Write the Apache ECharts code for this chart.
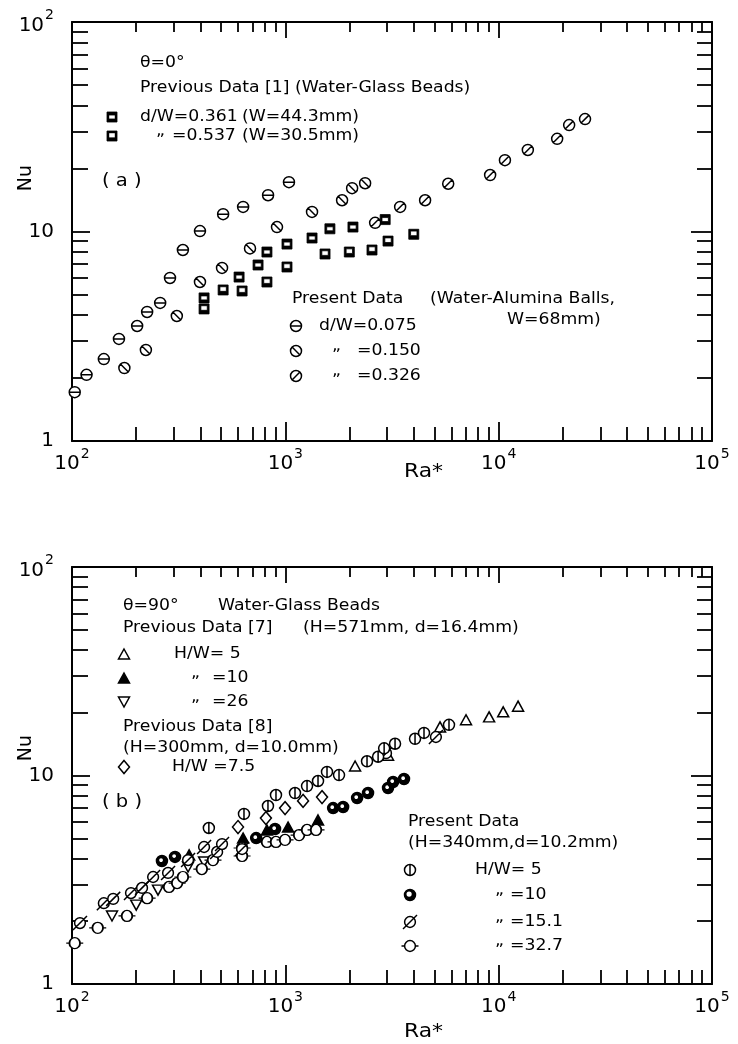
<!DOCTYPE html>
<html>
<head>
<meta charset="utf-8">
<title>Nu vs Ra*</title>
<script src="https://cdn.jsdelivr.net/npm/echarts@6/dist/echarts.min.js"></script>
<style>
  html, body { margin: 0; padding: 0; background: #fff; }
  #chart { width: 738px; height: 1044px; }
</style>
</head>
<body>
<div id="chart"></div>
<script>
// ---- (a) theta = 0 deg ----
const a075Ra = [103, 117, 141, 166, 202, 225, 259, 288, 331, 398, 511, 634, 830, 1040]
const a075Nu = [1.71, 2.07, 2.46, 3.07, 3.54, 4.13, 4.56, 6.0, 8.16, 10.05, 12.1, 13.1, 14.9, 17.2]
const a150Ra = [176, 222, 310, 398, 505, 683, 914, 1334, 1845, 2056, 2366]
const a150Nu = [2.23, 2.72, 3.95, 5.74, 6.7, 8.3, 10.5, 12.4, 14.1, 16.1, 17.0]
const a326Ra = [2636, 3453, 4520, 5800, 9120, 10700, 13700, 18800, 21400, 25400]
const a326Nu = [11.0, 13.1, 14.1, 16.9, 18.6, 21.9, 24.5, 27.7, 32.2, 34.4]
const a361Ra = [416, 607, 745, 820, 1018, 1334, 1618, 2075, 2938]
const a361Nu = [4.82, 6.06, 6.92, 7.98, 8.71, 9.31, 10.3, 10.5, 11.4]
const a537Ra = [416, 511, 627, 820, 1018, 1535, 1995, 2548, 3030, 4000]
const a537Nu = [4.27, 5.26, 5.2, 5.74, 6.77, 7.81, 7.98, 8.16, 9.0, 9.7]

// ---- (b) theta = 90 deg ----
const bPrev5Ra = [2123, 3030, 5310, 7030, 9020, 10500, 12330]
const bPrev5Nu = [11.1, 12.5, 17.1, 18.5, 19.1, 20.2, 21.5]
const bPrev10Ra = [354, 634, 820, 1030, 1423]
const bPrev10Nu = [4.16, 5.01, 5.48, 5.66, 6.12]
const bPrev26Ra = [154, 200, 253, 350, 416]
const bPrev26Nu = [2.12, 2.39, 2.82, 3.64, 3.85]
const bPrev75Ra = [600, 811, 997, 1211, 1486]
const bPrev75Nu = [5.66, 6.25, 6.98, 7.55, 7.88]
const b5Ra = [438, 640, 829, 904, 1110, 1264, 1423, 1568, 1785, 2415, 2722, 2905, 3268, 4055, 4467, 5850]
const b5Nu = [5.6, 6.54, 7.14, 8.06, 8.24, 8.9, 9.41, 10.4, 10.05, 11.7, 12.3, 13.5, 14.2, 15.0, 16.0, 17.5]
const b10Ra = [264, 304, 730, 895, 1675, 1866, 2170, 2442, 3030, 3200, 3600]
const b10Nu = [3.89, 4.07, 5.01, 5.54, 6.98, 7.06, 7.8, 8.24, 8.71, 9.31, 9.62]
const b151Ra = [109, 141, 156, 189, 213, 240, 282, 350, 416, 479, 505, 627, 2965, 5080]
const b151Nu = [1.96, 2.44, 2.56, 2.73, 2.89, 3.26, 3.41, 3.93, 4.54, 4.30, 4.69, 4.44, 12.8, 15.3]
const b327Ra = [103, 132, 181, 225, 285, 311, 331, 406, 458, 627, 627, 820, 904, 997, 1160, 1264, 1393]
const b327Nu = [1.57, 1.86, 2.12, 2.58, 2.92, 3.05, 3.26, 3.56, 3.93, 4.11, 4.49, 4.80, 4.80, 4.91, 5.18, 5.48, 5.48]

// ---- axes ----
const raMajor = [1000, 10000]
const raMinor = [200, 300, 400, 500, 600, 700, 800, 900, 2000, 3000, 4000, 5000, 6000, 7000, 8000, 9000,
  20000, 30000, 40000, 50000, 60000, 70000, 80000, 90000]
const raLabels = [100, 1000, 10000, 100000]
const nuMajor = [10]
const nuMinor = [2, 3, 4, 5, 6, 7, 8, 9, 20, 30, 40, 50, 60, 70, 80, 90]
const nuLabels = [1, 10, 100]

const FONT = 'DejaVu Sans'
const LW = 1.5
const pair = (xs, ys) => xs.map((x, i) => [x, ys[i]])

// marker shapes (series symbols)
const CIRC = 'M0,5A5,5,0,1,1,10,5A5,5,0,1,1,0,5Z'
const SYM = {
  circH: CIRC + 'M0,5L10,5',
  circBack: CIRC + 'M1.6,1.6L8.4,8.4',
  circSlash: CIRC + 'M1.6,8.4L8.4,1.6',
  circV: CIRC + 'M5,0L5,10',
  circHalf: CIRC + 'M1.8,4.2A2.4,2.4,0,1,0,6.6,4.2A2.4,2.4,0,1,0,1.8,4.2Z',
  circLong: 'M2,7A5,5,0,1,1,12,7A5,5,0,1,1,2,7ZM0.5,13.5L13.5,0.5',
  circTail: 'M3,5A5,5,0,1,1,13,5A5,5,0,1,1,3,5ZM0,5L3,5M13,5L16,5',
  sqA: 'M0,0L10,0L10,10L0,10ZM1.8,3L1.8,7L8.2,7L8.2,3Z',
  sqB: 'M0,0L10,0L10,10L0,10ZM1.8,1.8L1.8,6.4L8.2,6.4L8.2,1.8Z',
  tri: 'M5,0L10,9L0,9Z',
  triDown: 'M0,0L10,0L5,9Z',
  diamond: 'M5,0L10,6L5,12L0,6Z'
}
const SIZE = {
  circH: [11, 11], circBack: [11, 11], circSlash: [11, 11], circV: [11, 11], circHalf: [11, 11],
  circLong: [14, 14], circTail: [17, 11], sqA: [10, 10], sqB: [10, 10],
  tri: [11, 10], triDown: [11, 10], diamond: [11, 13]
}

function supLabel(v) {
  const e = Math.round(Math.log10(v))
  if (e === 0) return '{b|1}'
  if (e === 1) return '{b|10}'
  return '{b|10}{s|' + e + '}'
}
const labelRich = {
  b: { fontSize: 20, fontFamily: FONT, color: '#000', verticalAlign: 'bottom' },
  s: { fontSize: 14, fontFamily: FONT, color: '#000', verticalAlign: 'top', padding: [0, 0, 13, 1] }
}

function logAxis(gridIndex, position, min, max, ticks, len, showLine, labels, margin) {
  return {
    type: 'log', logBase: 10, gridIndex, position, min, max,
    axisLine: { show: showLine, lineStyle: { color: '#000', width: 2 } },
    axisTick: { show: true, inside: true, length: len, customValues: ticks, lineStyle: { color: '#000', width: 1.8 } },
    axisLabel: labels
      ? { show: true, customValues: labels, formatter: supLabel, rich: labelRich, margin }
      : { show: false },
    splitLine: { show: false },
    minorTick: { show: false }
  }
}

function xAxes(g) {
  return [
    logAxis(g, 'bottom', 100, 100000, raMajor, 19, true, raLabels, 6),
    logAxis(g, 'bottom', 100, 100000, raMinor, 14, false),
    logAxis(g, 'top', 100, 100000, raMajor, 16, true),
    logAxis(g, 'top', 100, 100000, raMinor, 10, false)
  ]
}
function yAxes(g) {
  return [
    logAxis(g, 'left', 1, 100, nuMajor, 18, true, nuLabels, 18),
    logAxis(g, 'left', 1, 100, nuMinor, 16, false),
    logAxis(g, 'right', 1, 100, nuMajor, 21, true),
    logAxis(g, 'right', 1, 100, nuMinor, 15, false)
  ]
}

function scatter(name, xs, ys, sym, axis, filled) {
  const isSq = sym === 'sqA' || sym === 'sqB'
  return {
    name, type: 'scatter', xAxisIndex: axis, yAxisIndex: axis,
    data: pair(xs, ys),
    symbol: 'path://' + SYM[sym],
    symbolSize: SIZE[sym],
    itemStyle: { color: filled ? '#000' : '#fff', borderColor: '#000', borderWidth: isSq ? 0.8 : LW, opacity: 1 },
    emphasis: { disabled: true }
  }
}

// legend markers built from primitives, centred on (cx, cy)
function marker(sym, cx, cy) {
  const open = { fill: '#fff', stroke: '#000', lineWidth: LW }
  const full = { fill: '#000', stroke: '#000', lineWidth: LW }
  const ln = { stroke: '#000', lineWidth: LW }
  const circle = (r, style) => ({ type: 'circle', shape: { cx: 0, cy: 0, r }, style })
  const line = (x1, y1, x2, y2) => ({ type: 'line', shape: { x1, y1, x2, y2 }, style: ln })
  const sq = { type: 'rect', shape: { x: -5, y: -5, width: 10, height: 10 }, style: { fill: '#000', stroke: '#000', lineWidth: 0.8 } }
  let children
  switch (sym) {
    case 'circH': children = [circle(5.5, open), line(-5.5, 0, 5.5, 0)]; break
    case 'circBack': children = [circle(5.5, open), line(-3.7, -3.7, 3.7, 3.7)]; break
    case 'circSlash': children = [circle(5.5, open), line(-3.7, 3.7, 3.7, -3.7)]; break
    case 'circV': children = [circle(5.5, open), line(0, -5.5, 0, 5.5)]; break
    case 'circHalf': children = [circle(5.5, full),
      { type: 'circle', shape: { cx: -0.9, cy: -0.9, r: 2.6 }, style: { fill: '#fff' } }]; break
    case 'circLong': children = [circle(5.4, open), line(-7, 7, 7, -7)]; break
    case 'circTail': children = [circle(5.4, open), line(-8.5, 0, -5.4, 0), line(5.4, 0, 8.5, 0)]; break
    case 'sqA': children = [sq, { type: 'rect', shape: { x: -2.8, y: -1.6, width: 5.6, height: 3.2 }, style: { fill: '#fff' } }]; break
    case 'sqB': children = [sq, { type: 'rect', shape: { x: -2.8, y: -2.8, width: 5.6, height: 4.2 }, style: { fill: '#fff' } }]; break
    case 'tri': children = [{ type: 'polygon', shape: { points: [[0, -5], [5.5, 5], [-5.5, 5]] }, style: open }]; break
    case 'triFull': children = [{ type: 'polygon', shape: { points: [[0, -5], [5.5, 5], [-5.5, 5]] }, style: full }]; break
    case 'triDown': children = [{ type: 'polygon', shape: { points: [[-5.5, -5], [5.5, -5], [0, 5]] }, style: open }]; break
    case 'diamond': children = [{ type: 'polygon', shape: { points: [[0, -6.5], [5.5, 0], [0, 6.5], [-5.5, 0]] }, style: open }]; break
  }
  return { type: 'group', x: cx, y: cy, children }
}

// annotation text, slightly widened like the spaced lettering of the original
function txt(text, x, y, size) {
  return {
    type: 'text', x, y, scaleX: 1.15,
    style: { text, font: (size || 15) + 'px "' + FONT + '"', fill: '#000', verticalAlign: 'middle' }
  }
}
const DITTO = '\u201e'

const chart = echarts.init(document.getElementById('chart'))
chart.setOption({
  animation: false,
  backgroundColor: '#fff',
  grid: [
    { left: 72, top: 22, width: 640, height: 419 },
    { left: 72, top: 567, width: 640, height: 417 }
  ],
  xAxis: [...xAxes(0), ...xAxes(1)],
  yAxis: [...yAxes(0), ...yAxes(1)],
  series: [
    scatter('d/W=0.361', a361Ra, a361Nu, 'sqA', 0, true),
    scatter('d/W=0.537', a537Ra, a537Nu, 'sqB', 0, true),
    scatter('d/W=0.075', a075Ra, a075Nu, 'circH', 0),
    scatter('d/W=0.150', a150Ra, a150Nu, 'circBack', 0),
    scatter('d/W=0.326', a326Ra, a326Nu, 'circSlash', 0),

    scatter('prev H/W=5', bPrev5Ra, bPrev5Nu, 'tri', 4),
    scatter('prev H/W=10', bPrev10Ra, bPrev10Nu, 'tri', 4, true),
    scatter('prev H/W=26', bPrev26Ra, bPrev26Nu, 'triDown', 4),
    scatter('prev H/W=7.5', bPrev75Ra, bPrev75Nu, 'diamond', 4),
    scatter('H/W=32.7', b327Ra, b327Nu, 'circTail', 4),
    scatter('H/W=15.1', b151Ra, b151Nu, 'circLong', 4),
    scatter('H/W=10', b10Ra, b10Nu, 'circHalf', 4, true),
    scatter('H/W=5', b5Ra, b5Nu, 'circV', 4)
  ],
  graphic: [
    // axis names
    { type: 'text', x: 26, y: 178, rotation: Math.PI / 2,
      style: { text: 'Nu', font: '19px "' + FONT + '"', fill: '#000', align: 'center', verticalAlign: 'middle' } },
    { type: 'text', x: 26, y: 748, rotation: Math.PI / 2,
      style: { text: 'Nu', font: '19px "' + FONT + '"', fill: '#000', align: 'center', verticalAlign: 'middle' } },
    txt('Ra*', 404, 472, 19),
    txt('Ra*', 404, 1032, 19),

    // (a) annotations
    txt('\u03b8=0\u00b0', 140, 63),
    txt('Previous Data [1] (Water-Glass Beads)', 140, 88),
    marker('sqA', 112, 117),
    txt('d/W=0.361', 140, 117), txt('(W=44.3mm)', 242, 117),
    marker('sqB', 112, 136),
    txt(DITTO, 156, 131), txt('=0.537', 172, 136), txt('(W=30.5mm)', 242, 136),
    txt('( a )', 102, 182, 17),
    txt('Present Data', 292, 299), txt('(Water-Alumina Balls,', 430, 299),
    txt('W=68mm)', 507, 320),
    marker('circH', 296, 326), txt('d/W=0.075', 319, 326),
    marker('circBack', 296, 351), txt(DITTO, 332, 346), txt('=0.150', 357, 351),
    marker('circSlash', 296, 376), txt(DITTO, 332, 371), txt('=0.326', 357, 376),

    // (b) annotations
    txt('\u03b8=90\u00b0', 123, 606), txt('Water-Glass Beads', 218, 606),
    txt('Previous Data [7]', 123, 628), txt('(H=571mm, d=16.4mm)', 303, 628),
    marker('tri', 124, 654), txt('H/W= 5', 174, 654),
    marker('triFull', 124, 678), txt(DITTO, 191, 673), txt('=10', 212, 678),
    marker('triDown', 124, 702), txt(DITTO, 191, 697), txt('=26', 212, 702),
    txt('Previous Data [8]', 123, 727),
    txt('(H=300mm, d=10.0mm)', 123, 748),
    marker('diamond', 124, 767), txt('H/W =7.5', 172, 767),
    txt('( b )', 102, 803, 17),
    txt('Present Data', 408, 822),
    txt('(H=340mm,d=10.2mm)', 408, 843),
    marker('circV', 410, 870), txt('H/W= 5', 475, 870),
    marker('circHalf', 410, 895), txt(DITTO, 495, 890), txt('=10', 510, 895),
    marker('circLong', 410, 922), txt(DITTO, 495, 917), txt('=15.1', 510, 922),
    marker('circTail', 410, 946), txt(DITTO, 495, 941), txt('=32.7', 510, 946)
  ]
})
</script>
</body>
</html>
